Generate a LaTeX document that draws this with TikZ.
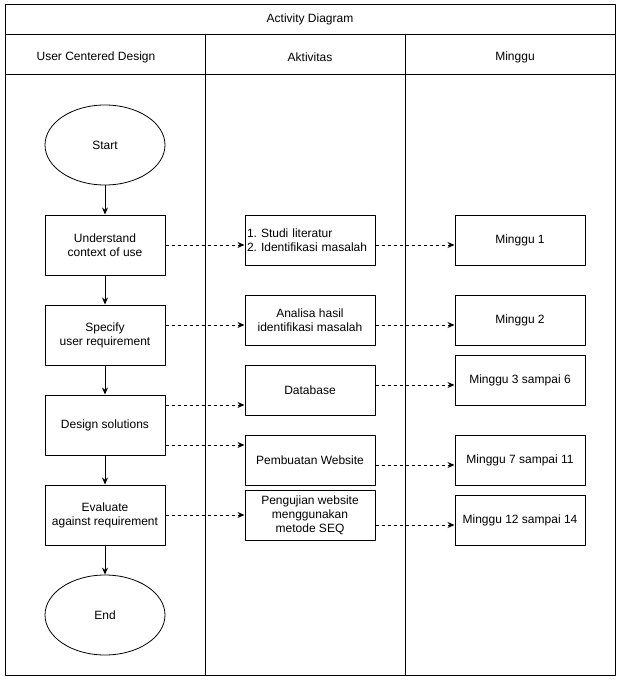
\documentclass[tikz,border=0pt]{standalone}
\usepackage{fontspec}
\setmainfont{Liberation Sans}
\usetikzlibrary{shapes.geometric, arrows.meta}
\tikzset{
	kotak/.style={draw, line width=1pt, minimum width=120pt, minimum height=60pt, align=center, inner sep=2pt},
	kecil/.style={draw, line width=1pt, minimum width=130pt, minimum height=50pt, align=center, inner sep=2pt},
	bulat/.style={draw, ellipse, line width=0.8pt, minimum width=120pt, minimum height=80pt},
	alur/.style={->, line width=1pt},
	putus/.style={->, line width=1pt, dash pattern=on 3pt off 3pt}
}
\begin{document}
\begin{tikzpicture}[x=1pt, y=-1pt, font=\fontsize{12}{14}\selectfont, line join=round, >={Stealth[length=7pt, width=6pt]}]
				\useasboundingbox (0,0) rectangle (623,682);
				% swimlane
				\draw[line width=1pt] (5,5) rectangle (615,675);
				\draw[line width=1pt] (5,35)--(615,35);
				\draw[line width=1pt] (5,75)--(615,75);
				\draw[line width=1pt] (205,35)--(205,675);
				\draw[line width=1pt] (405,35)--(405,675);
				\node (judul) at (310,19) {Activity Diagram};
				\node (ucd) at (96,57) {User Centered Design};
				\node (aktivitas) at (310,57) {Aktivitas};
				\node (minggu) at (515,57) {Minggu};
				% user centered design
				\node[bulat] (start) at (105,145) {Start};
				\node[kotak] (understand) at (105,245) {Understand\\context of use};
				\node[kotak] (specify) at (105,335) {Specify\\user requirement};
				\node[kotak] (design) at (105,425) {Design solutions};
				\node[kotak] (evaluate) at (105,515) {Evaluate\\against requirement};
				\node[bulat] (end) at (105,615) {End};
				% aktivitas
				\node[kecil, text width=126pt, align=left] (studi) at (310,240) {1.\ Studi literatur\\2.\ Identifikasi masalah};
				\node[kecil] (analisa) at (310,320) {Analisa hasil\\identifikasi masalah};
				\node[kecil] (database) at (310,390) {Database};
				\node[kecil] (website) at (310,460) {Pembuatan Website};
				\node[kecil] (uji) at (310,515) {Pengujian website\\menggunakan\\metode SEQ};
				% minggu
				\node[kecil] (m1) at (520,240) {Minggu 1};
				\node[kecil] (m2) at (520,320) {Minggu 2};
				\node[kecil] (m3) at (520,380) {Minggu 3 sampai 6};
				\node[kecil] (m7) at (520,460) {Minggu 7 sampai 11};
				\node[kecil] (m12) at (520,520) {Minggu 12 sampai 14};
				% alur
				\draw[alur] (start)--(understand);
				\draw[alur] (understand)--(specify);
				\draw[alur] (specify)--(design);
				\draw[alur] (design)--(evaluate);
				\draw[alur] (evaluate)--(end);
				\draw[putus] (understand.east)--([yshift=-5pt]studi.west);
				\draw[putus] ([yshift=10pt]specify.east)--([yshift=-5pt]analisa.west);
				\draw[putus] ([yshift=20pt]design.east)--([yshift=-15pt]database.west);
				\draw[putus] ([yshift=-20pt]design.east)--([yshift=15pt]website.west);
				\draw[putus] (evaluate.east)--(uji.west);
				\draw[putus] ([yshift=-5pt]studi.east)--([yshift=-5pt]m1.west);
				\draw[putus] ([yshift=-5pt]analisa.east)--([yshift=-5pt]m2.west);
				\draw[putus] ([yshift=5pt]database.east)--([yshift=-5pt]m3.west);
				\draw[putus] ([yshift=-5pt]website.east)--([yshift=-5pt]m7.west);
				\draw[putus] ([yshift=-10pt]uji.east)--([yshift=-5pt]m12.west);
			\end{tikzpicture}
\end{document}
